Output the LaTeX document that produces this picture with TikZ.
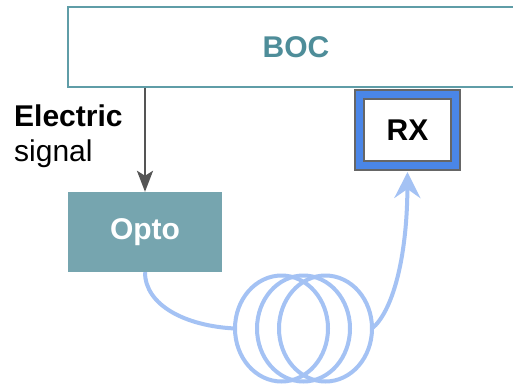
\documentclass[tikz,border=0pt]{standalone}
\usepackage{fontspec}
\setmainfont{Liberation Sans}
\usetikzlibrary{arrows.meta}
\definecolor{bocteal}{HTML}{4E8D99}
\definecolor{bocline}{HTML}{5F9DA7}
\definecolor{optofill}{HTML}{76A5AF}
\definecolor{rxblue}{HTML}{4A86E8}
\definecolor{rxgray}{HTML}{666666}
\definecolor{fiber}{HTML}{A4C2F4}
\definecolor{wire}{HTML}{555555}
\tikzset{
  lbl/.style={font=\fontsize{30}{34}\selectfont},
  block/.style={rectangle, inner sep=0pt, font=\fontsize{30}{34}\selectfont\bfseries},
  fiberline/.style={draw=fiber, line width=4pt},
}
\begin{document}
\begin{tikzpicture}[x=1pt,y=-1pt]
  \useasboundingbox (0,0) rectangle (513,388);
  \clip (0,0) rectangle (513,388);
  \fill[white] (0,0) rectangle (513,388);

  % blocks
  \node[block, draw=bocline, line width=1.5pt, text=bocteal,
        minimum width=456pt, minimum height=80pt] (boc) at (296,47) {BOC};
  \node[block, fill=optofill, text=white,
        minimum width=154pt, minimum height=80pt] (opto) at (145,232) {Opto};
  \node[block, fill=rxblue, draw=rxgray, line width=2.5pt,
        minimum width=105pt, minimum height=80pt] (rxout) at (407.5,130) {};
  \node[block, fill=white, draw=rxgray, line width=2pt,
        minimum width=87pt, minimum height=62pt] (rx) at (407.5,130) {RX};

  % electric signal
  \node[lbl, anchor=base west, inner sep=0pt] (el) at (14,126) {\bfseries Electric};
  \node[lbl, anchor=base west, inner sep=0pt] (sig) at (14,161) {signal};
  \draw[draw=wire, line width=2.5pt, -{Stealth[length=21pt,width=16pt,inset=5pt]}]
    (opto.north |- boc.south) -- (opto.north);

  % fibre coil
  \coordinate (cin) at (235,328.5);
  \coordinate (cout) at (372,328.5);
  \coordinate (tip) at (407.5,172);
  \draw[fiberline] (281.5,328.5) ellipse [x radius=46.5pt, y radius=53pt];
  \draw[fiberline] (303.5,328.5) ellipse [x radius=46.5pt, y radius=53pt];
  \draw[fiberline] (325.5,328.5) ellipse [x radius=46.5pt, y radius=53pt];
  \draw[fiberline] (opto.south -| 145,0) .. controls (145,305) and (185,326) .. (cin);
  \draw[fiberline, -{Stealth[length=26pt,width=26pt,inset=9pt]}]
    (cout) .. controls (392,312) and (407,260) .. (tip);
\end{tikzpicture}
\end{document}
